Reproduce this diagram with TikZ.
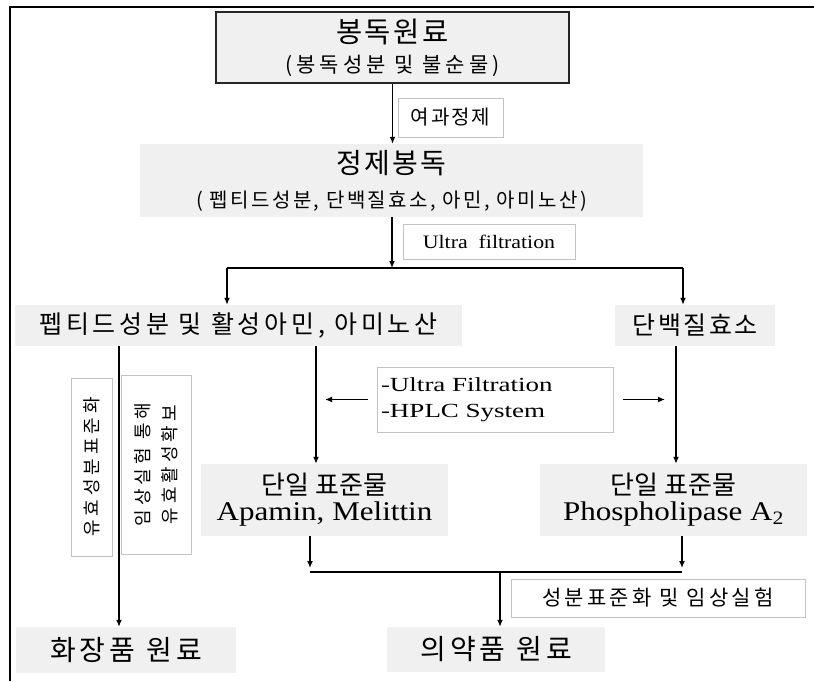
\documentclass[tikz,border=0pt]{standalone}
\usepackage{fontspec}
\setmainfont{Liberation Serif}
\newfontfamily\kr{Noto Sans CJK KR}
\newfontfamily\lat[FakeStretch=1.15]{Liberation Serif}
\newfontfamily\latw[FakeStretch=1.35]{Liberation Serif}
\usetikzlibrary{arrows.meta,positioning,calc}
\definecolor{boxgray}{RGB}{240,240,240}
\definecolor{linegray}{RGB}{195,195,195}

\begin{document}
\begin{tikzpicture}[
    x=1pt, y=-1pt,
    source/.style={rectangle, draw=black!85, line width=1.5pt, fill=boxgray, inner sep=0pt, align=center},
    stage/.style={rectangle, fill=boxgray, inner sep=0pt, align=center},
    note/.style={rectangle, draw=linegray, line width=1pt, fill=white, inner sep=0pt, align=center},
    arrow/.style={-{Latex[length=7pt,width=6pt]}, line width=1.4pt},
    link/.style={line width=1.4pt}
]
    \useasboundingbox (0,0) rectangle (814,681);
    \draw[line width=2pt] (814,7) -- (10,7) -- (10,681);

    % Raw and purified venom
    \node[source, minimum width=353pt, minimum height=71pt, font={\kr\fontsize{21}{30}\selectfont}] (raw) at (392.5,47.5)
        {{\addfontfeature{LetterSpace=9}\fontsize{28.5}{30}\selectfont 봉독원료}\\{\addfontfeature{LetterSpace=19}(봉독성분 및 불순물)}};
    \node[stage, minimum width=503pt, minimum height=73pt, font={\kr\fontsize{20}{34}\selectfont}] (purified) at (391.5,180.5)
        {{\addfontfeature{LetterSpace=8}\fontsize{28}{34}\selectfont 정제봉독}\\{\addfontfeature{LetterSpace=12}( 펩티드성분, 단백질효소, 아민, 아미노산)}};
    \node[note, minimum width=105pt, minimum height=39pt, font={\kr\addfontfeature{LetterSpace=10}\fontsize{20}{22}\selectfont}] (filtlbl) at (450.5,117.5) {여과정제};
    \node[note, minimum width=172pt, minimum height=35pt, font={\lat\fontsize{19}{22}\selectfont}] (uflbl) at (489,241.5) {Ultra\ \ filtration};

    % Fractions
    \node[stage, minimum width=447pt, minimum height=41pt, font={\kr\addfontfeature{LetterSpace=15}\fontsize{25}{27}\selectfont}] (peptide) at (238.5,325.5)
        {펩티드성분 및 활성아민, 아미노산};
    \node[stage, minimum width=160pt, minimum height=41pt, font={\kr\addfontfeature{LetterSpace=10}\fontsize{25}{27}\selectfont}] (enzyme) at (695,325.5) {단백질효소};
    \node[note, rotate=90, minimum width=178pt, minimum height=41pt, font={\kr\addfontfeature{LetterSpace=22}\fontsize{18}{27}\selectfont}] (stdlbl) at (91.5,467) {유효성분표준화};
    \node[note, rotate=90, minimum width=179pt, minimum height=70pt, font={\kr\addfontfeature{LetterSpace=22}\fontsize{18}{27}\selectfont}] (clinlbl) at (156,464.5)
        {임상실험 통해\\유효활성확보};
    \node[note, text width=228pt, inner xsep=4pt, minimum height=65pt, align=left, font={\latw\fontsize{20}{26}\selectfont}] (method) at (495,399.5)
        {-Ultra Filtration\\-HPLC System};

    % Standards
    \node[stage, minimum width=247pt, minimum height=72pt, font={\kr\fontsize{26}{26}\selectfont}] (apamin) at (324.5,500)
        {단일 표준물\\{\lat\fontsize{27}{26}\selectfont Apamin, Melittin}};
    \node[stage, minimum width=267pt, minimum height=72pt, font={\kr\fontsize{26}{26}\selectfont}] (phospho) at (673.5,500)
        {단일 표준물\\{\lat\fontsize{27}{26}\selectfont Phospholipase A\textsubscript{2}}};
    \node[note, minimum width=294pt, minimum height=38pt, font={\kr\addfontfeature{LetterSpace=15}\fontsize{21}{23}\selectfont}] (stdztn) at (658,598) {성분표준화 및 임상실험};

    % Products
    \node[stage, minimum width=220pt, minimum height=46pt, font={\kr\addfontfeature{LetterSpace=15}\fontsize{28}{30}\selectfont}] (cosmetic) at (126,650) {화장품 원료};
    \node[stage, minimum width=218pt, minimum height=45pt, font={\kr\addfontfeature{LetterSpace=15}\fontsize{28}{30}\selectfont}] (pharma) at (496,649.5) {의약품 원료};

    % Arrows
    \coordinate (split) at (392,268);
    \coordinate (splitL) at (227,268);
    \coordinate (splitR) at (683,268);
    \coordinate (cosmX) at (119,0);
    \coordinate (apamX) at (316,0);
    \coordinate (phosX) at (676,0);
    \coordinate (joinL) at (310,572);
    \coordinate (joinR) at (682,572);
    \coordinate (join) at (500,572);

    \draw[arrow] (raw.south) -- (raw.south |- purified.north);
    \draw[arrow] (purified.south -| split) -- (split);
    \draw[link] (splitL) -- (splitR);
    \draw[arrow] (splitL) -- (splitL |- peptide.north);
    \draw[arrow] (splitR) -- (splitR |- enzyme.north);
    \draw[arrow] (peptide.south -| cosmX) -- (cosmetic.north -| cosmX);
    \draw[arrow] (peptide.south -| apamX) -- (apamin.north -| apamX);
    \draw[arrow] (enzyme.south -| phosX) -- (phospho.north -| phosX);
    \draw[arrow] ([xshift=-9pt]method.west) -- ([xshift=9pt]method.west -| apamX);
    \draw[arrow] ([xshift=9pt]method.east) -- ([xshift=-11pt]method.east -| phosX);
    \draw[arrow] (apamin.south -| joinL) -- ([yshift=4pt]joinL);
    \draw[arrow] (phospho.south -| joinR) -- ([yshift=4pt]joinR);
    \draw[link] (joinL) -- (joinR);
    \draw[arrow] (join) -- (pharma.north -| join);
\end{tikzpicture}
\end{document}
